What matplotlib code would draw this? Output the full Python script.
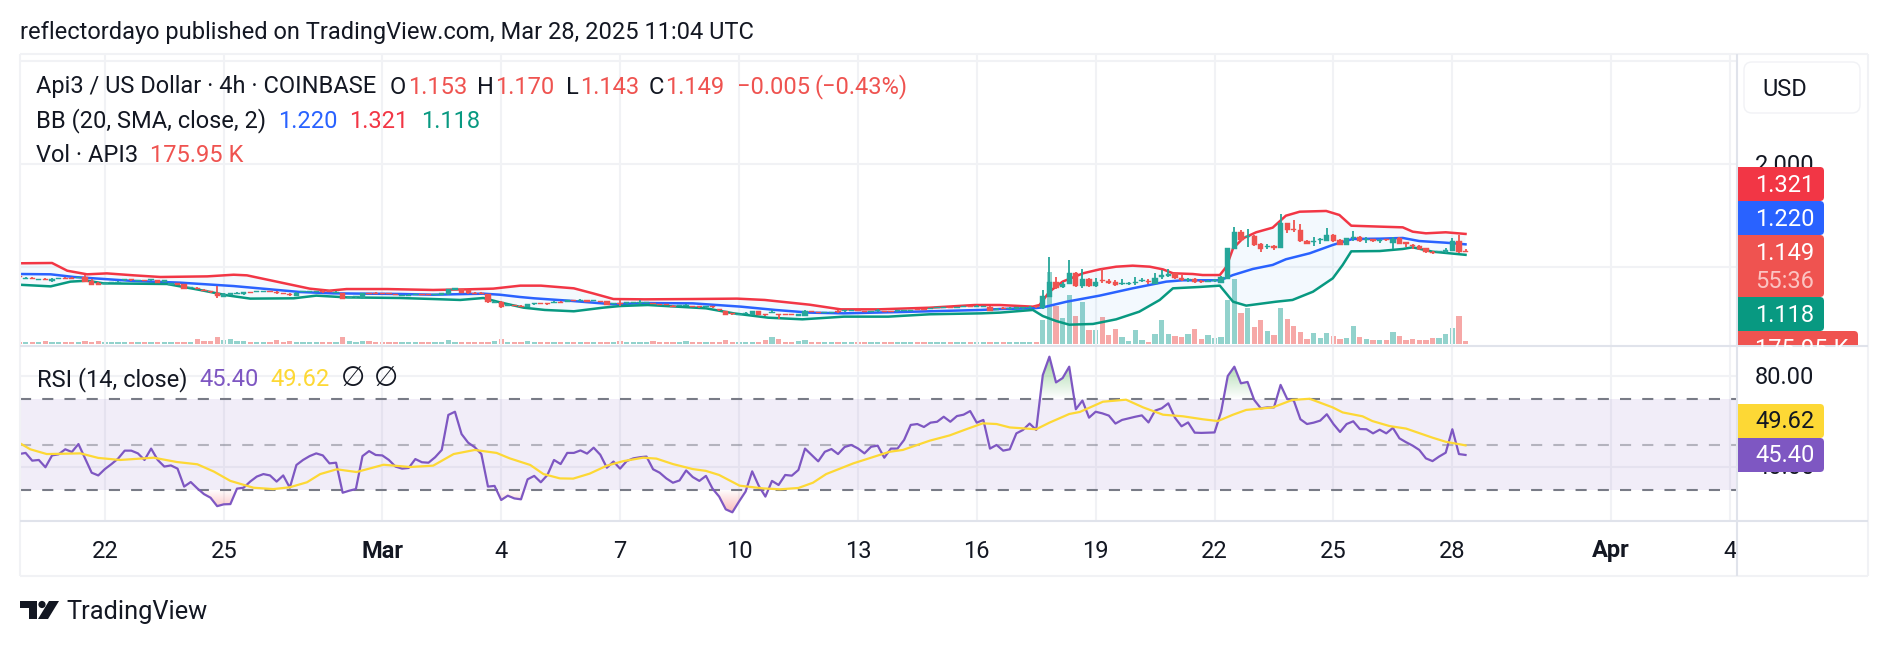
import numpy as np
import matplotlib
matplotlib.use('Agg')
from matplotlib import pyplot as plt
from matplotlib.path import Path
from matplotlib.patches import FancyBboxPatch, Rectangle, Polygon, Circle

W, H = 1888, 646
plt.rcParams['font.family'] = ['Roboto', 'DejaVu Sans']
plt.rcParams['lines.scale_dashes'] = False

# 4h candles, Feb 19 to Mar 28
opens = [.911, .888, .898, .875, .888, .861, .882, .898, .898, .895, .906, .867, .848, .836, .846, .849, .869, .879, .865, .872,
         .869, .874, .859, .830, .840, .835, .794, .795, .778, .765, .751, .712, .733, .739, .735, .756, .755, .759, .765, .756,
         .749, .740, .722, .755, .759, .759, .769, .772, .752, .744, .700, .704, .696, .749, .752, .749, .746, .736, .717, .723,
         .730, .740, .736, .726, .733, .735, .780, .783, .777, .752, .752, .738, .655, .664, .626, .630, .626, .609, .636, .649,
         .646, .655, .665, .665, .678, .668, .675, .671, .672, .667, .642, .646, .646, .649, .646, .649, .649, .643, .639, .626,
         .620, .620, .623, .617, .607, .617, .588, .570, .549, .536, .548, .537, .570, .542, .552, .542, .542, .542, .529, .528,
         .575, .565, .552, .555, .575, .568, .571, .581, .575, .565, .568, .571, .575, .568, .574, .574, .591, .594, .594, .600,
         .600, .610, .604, .610, .623, .616, .610, .615, .587, .604, .594, .597, .600, .603, .620, .599, .705, .854, .809, .832,
         .939, .819, .880, .819, .874, .864, .854, .832, .835, .845, .861, .867, .838, .906, .913, .939, .897, .874, .884, .867,
         .858, .861, .845, .884, 1.175, 1.337, 1.291, 1.301, 1.223, 1.191, 1.204, 1.188, 1.424, 1.369, 1.356, 1.256, 1.240, 1.259, 1.256, 1.311,
         1.262, 1.217, 1.278, 1.291, 1.259, 1.269, 1.256, 1.272, 1.233, 1.285, 1.240, 1.217, 1.204, 1.181, 1.149, 1.146, 1.149, 1.155, 1.252, 1.153]
closes = [.901, .898, .888, .885, .878, .887, .892, .888, .888, .905, .858, .828, .828, .846, .856, .859, .879, .869, .875, .862,
          .879, .848, .869, .840, .830, .790, .804, .785, .768, .755, .722, .738, .743, .749, .760, .746, .765, .769, .755, .746,
          .739, .730, .751, .765, .769, .769, .759, .762, .762, .692, .710, .714, .744, .739, .742, .739, .736, .726, .727, .733,
          .740, .730, .726, .736, .743, .783, .793, .751, .744, .742, .742, .657, .665, .609, .636, .620, .616, .641, .646, .639,
          .636, .665, .655, .675, .668, .678, .665, .681, .662, .631, .652, .636, .656, .659, .656, .659, .639, .633, .629, .616,
          .630, .630, .613, .607, .617, .607, .578, .534, .539, .546, .558, .570, .534, .532, .562, .532, .532, .532, .539, .576,
          .565, .555, .562, .565, .565, .578, .581, .571, .565, .575, .578, .561, .565, .578, .584, .584, .581, .584, .604, .610,
          .610, .600, .614, .620, .613, .626, .620, .576, .597, .594, .604, .607, .610, .613, .610, .718, .851, .793, .835, .939,
          .819, .880, .819, .858, .864, .848, .822, .841, .845, .854, .874, .854, .893, .919, .932, .890, .871, .887, .854, .854,
          .867, .871, .906, 1.181, 1.340, 1.262, 1.304, 1.210, 1.178, 1.204, 1.181, 1.424, 1.359, 1.359, 1.252, 1.227, 1.249, 1.269, 1.307, 1.252,
          1.217, 1.278, 1.291, 1.252, 1.272, 1.256, 1.265, 1.259, 1.275, 1.227, 1.227, 1.207, 1.178, 1.142, 1.139, 1.155, 1.165, 1.249, 1.149, 1.149]
highs = [.915, .900, .905, .887, .890, .890, .894, .900, .900, .907, .919, .880, .851, .848, .858, .861, .881, .881, .877, .874,
         .881, .876, .871, .842, .842, .838, .806, .805, .786, .767, .815, .745, .748, .755, .762, .758, .767, .771, .767, .770,
         .751, .750, .753, .767, .771, .771, .775, .774, .764, .747, .712, .716, .746, .751, .754, .751, .748, .738, .729, .735,
         .742, .742, .738, .738, .745, .785, .795, .785, .779, .754, .754, .740, .667, .666, .638, .632, .632, .643, .648, .651,
         .648, .667, .667, .677, .680, .690, .677, .683, .674, .669, .654, .680, .658, .661, .680, .661, .651, .645, .641, .628,
         .632, .645, .625, .619, .619, .619, .590, .572, .551, .548, .560, .572, .572, .544, .583, .545, .544, .544, .541, .578,
         .577, .567, .564, .567, .585, .580, .583, .583, .577, .577, .590, .573, .577, .580, .586, .586, .593, .596, .606, .612,
         .612, .612, .616, .622, .625, .628, .622, .617, .599, .610, .610, .612, .615, .618, .625, .777, 1.094, .906, .851, 1.068,
         .951, .977, .890, .890, .977, .880, .874, .880, .854, .906, .897, .884, .939, .971, .977, .945, .919, .893, .893, .871,
         .871, .887, .913, 1.187, 1.385, 1.356, 1.366, 1.311, 1.230, 1.223, 1.214, 1.515, 1.430, 1.456, 1.414, 1.262, 1.291, 1.285, 1.375, 1.317,
         1.269, 1.281, 1.353, 1.298, 1.288, 1.272, 1.275, 1.275, 1.288, 1.294, 1.243, 1.220, 1.210, 1.185, 1.152, 1.159, 1.184, 1.282, 1.314, 1.170]
lows = [.899, .886, .880, .873, .876, .858, .880, .886, .886, .893, .855, .825, .825, .834, .844, .847, .867, .867, .863, .860,
        .867, .846, .857, .828, .828, .787, .792, .783, .766, .750, .702, .710, .728, .735, .733, .744, .753, .757, .753, .740,
        .737, .722, .720, .753, .757, .757, .750, .760, .750, .690, .698, .702, .694, .737, .740, .737, .734, .724, .715, .721,
        .728, .728, .724, .724, .731, .733, .778, .749, .742, .740, .740, .655, .653, .600, .624, .618, .610, .607, .634, .637,
        .634, .653, .653, .663, .666, .666, .663, .669, .660, .628, .640, .618, .644, .647, .644, .647, .637, .631, .627, .614,
        .618, .618, .611, .605, .605, .605, .576, .532, .530, .534, .546, .535, .532, .525, .550, .492, .530, .530, .527, .526,
        .563, .553, .550, .553, .550, .566, .569, .569, .563, .563, .566, .559, .563, .566, .572, .572, .579, .582, .592, .598,
        .598, .598, .602, .608, .611, .614, .608, .574, .585, .590, .590, .592, .595, .598, .605, .592, .705, .790, .793, .832,
        .809, .793, .809, .809, .841, .832, .816, .828, .828, .828, .851, .835, .838, .887, .900, .884, .864, .851, .848, .848,
        .851, .854, .841, .884, 1.175, 1.256, 1.197, 1.207, 1.149, 1.175, 1.168, 1.188, 1.333, 1.343, 1.243, 1.224, 1.207, 1.223, 1.252, 1.243,
        1.217, 1.217, 1.252, 1.246, 1.236, 1.240, 1.236, 1.256, 1.172, 1.223, 1.197, 1.178, 1.168, 1.139, 1.129, 1.143, 1.133, 1.155, 1.139, 1.143]

# volume per bar, thousands of API3
volume = [117, 117, 117, 117, 176, 117, 117, 117, 117, 117, 176, 117, 176, 117, 117, 117, 117, 117, 117, 117,
          117, 117, 117, 117, 117, 117, 117, 293, 176, 176, 411, 235, 293, 176, 176, 117, 117, 117, 117, 235,
          117, 176, 117, 117, 117, 117, 117, 117, 117, 411, 176, 117, 176, 176, 117, 117, 117, 117, 117, 117,
          117, 117, 117, 117, 117, 235, 117, 117, 117, 117, 117, 117, 176, 293, 117, 117, 117, 176, 117, 117,
          117, 117, 117, 117, 117, 117, 117, 117, 117, 117, 117, 176, 117, 117, 117, 117, 176, 117, 117, 117,
          117, 176, 117, 117, 117, 117, 117, 235, 117, 117, 117, 117, 117, 235, 411, 293, 117, 117, 176, 235,
          117, 117, 117, 117, 117, 117, 117, 117, 117, 117, 117, 117, 117, 117, 117, 117, 117, 117, 117, 117,
          117, 117, 117, 117, 117, 117, 117, 117, 117, 117, 117, 117, 117, 117, 117, 1408, 4223, 2229, 1525, 2874,
          1642, 2463, 821, 821, 1584, 528, 880, 411, 176, 821, 235, 117, 587, 1408, 587, 469, 411, 587, 880, 293,
          528, 352, 411, 2581, 3812, 1818, 2111, 997, 1408, 762, 528, 2111, 1466, 1056, 704, 293, 645, 352, 645, 469,
          293, 352, 1056, 411, 293, 235, 235, 235, 704, 469, 235, 293, 235, 235, 352, 352, 587, 938, 1642, 175.95]

# Bollinger band vertices: bar number, price
upper_bars = [0, 5, 7.3, 10.3, 13.3, 17.4, 21.4, 28.5, 32.5, 34.5, 39, 44, 47, 49.6, 55.7, 62.7, 67.8, 71.8, 75.9, 79, 84, 86.9, 90, 94.7,
              102, 108.7, 112.9, 119.7, 124.4, 130.1, 137.9, 144.7, 148.5, 153.5, 154.5, 156, 158, 161.1, 163.6, 166.1, 168.6, 171.2,
              173.2, 174.7, 177.7, 179.2, 181.8, 182.8, 183.8, 185.3, 187.3, 189.8, 191.8, 193.9, 197.9, 199.9, 201.7, 206, 209.5, 211, 213, 216, 219]
upper = [1.036, 1.039, .964, .929, .938, .919, .903, .909, .925, .919, .858, .790, .770, .786, .786, .777, .783, .790, .819, .819, .793, .744, .689, .686,
         .689, .693, .680, .634, .589, .589, .605, .631, .631, .615, .631, .760, .858, .939, .977, 1.003, 1.013, 1.003,
         .977, .939, .932, .922, .922, 1.003, 1.181, 1.278, 1.337, 1.382, 1.498, 1.537, 1.544, 1.505, 1.401, 1.392, 1.385, 1.343, 1.327, 1.337, 1.321]
basis_bars = [0, 4.8, 8.3, 17.4, 24.4, 32.5, 42.6, 47.6, 57.7, 62.7, 70.3, 72.8, 75.8, 78, 83.2, 90, 94.7, 102, 109.3, 114.5, 119.7, 124.9, 135.3,
              145.7, 148.5, 153.5, 155, 158.6, 163.6, 168.6, 173.7, 176.2, 181.8, 183.8, 186.8, 189.8, 191.8, 195.4, 198.9, 201.9, 206, 209.5, 212, 216, 219]
basis = [.932, .929, .903, .864, .848, .815, .757, .744, .738, .731, .741, .731, .709, .696, .673, .638, .650, .647, .615, .583, .557, .550, .566,
         .583, .592, .599, .608, .663, .722, .793, .858, .871, .871, .922, .981, 1.020, 1.075, 1.133, 1.214, 1.272, 1.275, 1.282, 1.252, 1.236, 1.220]
lower_bars = [0, 4.8, 7.8, 10.3, 12.8, 22.4, 27.4, 31.5, 35, 41.6, 45, 49.6, 57.7, 62.7, 66.8, 70.3, 72.8, 76.4, 79.6, 84, 88.4, 91, 95.2, 104, 108.2,
              113.4, 118.6, 124.9, 131.6, 137.9, 145.7, 148.5, 153.5, 155, 157, 159, 162.6, 166.1, 169.6, 172.7, 174.7, 178.7, 181.8, 183.8, 185.8,
              190.3, 192.8, 195.9, 198.9, 200.4, 201.7, 206, 209.5, 211, 214, 219]
lower = [.828, .812, .858, .867, .841, .835, .777, .725, .693, .696, .722, .705, .699, .689, .680, .699, .657, .605, .583, .570, .605, .621, .631, .599, .550,
         .508, .492, .518, .518, .541, .550, .557, .583, .524, .476, .440, .447, .492, .566, .680, .793, .806, .819, .663, .625,
         .663, .680, .760, .890, 1.020, 1.152, 1.155, 1.175, 1.191, 1.149, 1.118]

# RSI(14) per bar
rsi = [45.8, 46.3, 42.9, 43.2, 40.0, 45.2, 45.7, 47.9, 46.7, 50.2, 43.9, 37.6, 36.4, 39.2, 41.4, 43.8, 47.3, 47.3, 46.1, 43.2,
       48.2, 43.2, 40.3, 40.8, 39.4, 31.5, 33.5, 30.7, 28.2, 26.6, 22.9, 23.7, 23.8, 30.6, 31.0, 33.7, 35.9, 37.0, 36.4, 33.7,
       36.4, 31.0, 41.0, 43.2, 44.9, 46.1, 45.2, 41.7, 42.0, 28.8, 29.7, 30.4, 44.9, 47.1, 45.4, 45.2, 43.2, 40.3, 39.4, 39.7,
       43.6, 42.2, 42.0, 44.4, 47.6, 63.0, 64.4, 54.6, 50.8, 48.8, 45.8, 31.5, 31.8, 25.6, 27.5, 26.3,
       25.9, 34.7, 36.2, 33.4, 36.6, 43.2, 41.4, 46.3, 46.3, 47.4, 46.0, 48.6, 45.5, 39.8, 42.5, 39.4, 42.7, 43.9, 44.4, 44.7,
       39.1, 37.6, 35.1, 33.2, 34.2, 38.6, 35.7, 34.0, 36.2, 30.6, 27.1, 21.5, 20.2, 24.9, 29.3, 38.2, 31.8, 27.1, 34.0, 32.2,
       36.6, 36.3, 38.8, 48.2, 45.4, 42.6, 46.8, 48.0, 45.8, 48.9, 49.8, 48.3, 46.1, 49.0, 49.5, 44.2, 48.2, 48.2, 52.0, 58.6,
       59.0, 57.7, 59.6, 60.0, 62.2, 60.0, 62.5, 63.1, 64.7, 59.6, 60.8, 48.2, 49.8, 47.3,
       47.9, 54.9, 56.4, 59.2, 56.4, 80.5, 88.6, 77.3, 79.2, 84.2, 65.5, 69.3, 61.8, 64.4, 63.7, 62.7, 59.2, 60.8, 61.5, 62.2,
       62.8, 59.7, 64.9, 65.9, 68.1, 61.8, 58.0, 59.7, 55.2, 55.1, 55.2, 55.3, 64.4, 80.1, 84.2, 76.9, 77.5, 69.6, 65.9, 66.3,
       66.3, 76.2, 70.0, 69.3, 61.1, 59.0, 59.6, 60.5, 63.3, 59.0, 55.5, 59.0, 60.2, 56.8, 56.7, 54.9, 56.5, 54.9, 57.3, 52.7,
       51.0, 49.5, 47.6, 43.9, 42.7, 44.7, 46.4, 56.7, 45.8, 45.40]

# RSI moving average vertices: bar number, value
rsi_ma_bars = [0, 1.7, 4.2, 9.3, 12, 15.3, 20.4, 23.9, 27, 29.5, 32, 35.5, 38.5, 41, 43.6, 45.6, 48.1, 51.1, 55.2, 59.2, 62.7, 65.8, 69, 72.3,
               74.3, 77.4, 79.4, 81.9, 83.9, 86.4, 89, 91.5, 94.5, 96.5, 99, 102, 104, 106, 109.1, 112.7, 115.2, 118, 120.2, 122.2, 126.3, 131.8,
               133.8, 137.9, 140.9, 143.4, 145.9, 148, 150, 154, 156, 159, 160.6, 164.1, 167.6, 170.2, 173.2, 176.2, 179.2, 181.5, 183.8, 185.8,
               189.8, 192.8, 195.4, 198.9, 200.4, 203.4, 204.9, 207.5, 210, 214, 216, 219]
rsi_ma = [50.8, 47.9, 45.8, 46.1, 44.1, 43.2, 44.2, 42.3, 41.3, 38.1, 34.0, 31.0, 30.4, 31.2, 33.4, 37.0, 39.1, 37.9, 41.1, 40.1, 40.7, 45.8, 47.6, 46.3,
          43.9, 41.0, 37.0, 35.1, 35.0, 37.2, 40.7, 42.7, 44.2, 43.8, 41.4, 39.2, 38.4, 36.6, 31.9, 30.7, 30.3, 30.9, 33.2, 37.0, 41.7, 46.8,
          47.6, 51.7, 54.0, 56.7, 59.3, 59.0, 57.5, 56.7, 59.6, 63.4, 64.3, 68.8, 69.7, 66.3, 63.1, 62.4, 61.1, 60.3, 63.1, 65.2,
          66.3, 69.6, 70.1, 66.3, 64.1, 62.4, 60.3, 58.1, 57.0, 53.0, 51.2, 49.62]

# time axis: bar number of each midnight and its label
tick_bars = [13, 31, 55, 73, 91, 109, 127, 145, 163, 181, 199, 217, 241, 259]
tick_labels = ['22', '25', 'Mar', '4', '7', '10', '13', '16', '19', '22', '25', '28', 'Apr', '4']
bold_ticks = ['Mar', 'Apr']

price_grid = [1, 2, 3]
rsi_grid = [40, 80]

TEXT = '#131722'
GRID = '#F1F2F5'
SEP = '#E0E3EB'
UP = '#26A69A'
DOWN = '#EF5350'
BB_RED = '#F23645'
BB_BLUE = '#2962FF'
BB_GREEN = '#089981'
PURPLE = '#7E57C2'
YELLOW = '#FDD835'
FS = 17

fig = plt.figure(figsize=(W / 100, H / 100), dpi=100, facecolor='white')


def pane(x0, y0, x1, y1, **kw):
    return fig.add_axes([x0 / W, 1 - y1 / H, (x1 - x0) / W, (y1 - y0) / H], **kw)


XLIM = (0.15, 260.1)
bars = np.arange(len(opens))

# price pane, 103 px per 1.0 with 1.0 at y=267
ax = pane(20, 54, 1737, 345.5)
ax.set_xlim(*XLIM)
ax.set_ylim(1 - (345.5 - 267) / 103, 1 + (267 - 54) / 103)
ax.axis('off')
ax.vlines(tick_bars, 0, 4, color=GRID, lw=1.5, zorder=0)
ax.hlines(price_grid, *XLIM, color=GRID, lw=1.5, zorder=0)

# volume shares the pane, bars sit on y=344
ax_vol = ax.twinx()
ax_vol.set_ylim(-100, 17000)
ax_vol.axis('off')
ax_vol.set_zorder(ax.get_zorder() - 1)
ax.set_zorder(ax_vol.get_zorder() + 1)
ax.patch.set_visible(False)
colors = [UP if c >= o else DOWN for o, c in zip(opens, closes)]
ax_vol.bar(bars, volume, width=0.8, color=colors, alpha=0.5, linewidth=0, zorder=2)

# Bollinger fill and lines
ax.fill(np.r_[upper_bars, lower_bars[::-1]], np.r_[upper, lower[::-1]], color='#2196F3', alpha=0.05, lw=0, zorder=1)
ax.plot(upper_bars, upper, color=BB_RED, lw=1.8, zorder=2, solid_joinstyle='round')
ax.plot(basis_bars, basis, color=BB_BLUE, lw=1.8, zorder=2, solid_joinstyle='round')
ax.plot(lower_bars, lower, color=BB_GREEN, lw=1.8, zorder=2, solid_joinstyle='round')

# candles
ax.vlines(bars, lows, highs, color=colors, lw=1.3, zorder=3)
bottoms = np.minimum(opens, closes)
heights = np.abs(np.array(closes) - np.array(opens))
ax.bar(bars, heights, bottom=bottoms, width=0.8, color=colors, edgecolor=colors, linewidth=0.3, zorder=4)

# RSI pane, 2.275 px per point with 70 at y=399
RSI_YLIM = (70 - (521 - 399) / 2.275, 70 + (399 - 346) / 2.275)
ax_r = pane(20, 346, 1737, 521)
ax_r.set_xlim(*XLIM)
ax_r.set_ylim(*RSI_YLIM)
ax_r.axis('off')
ax_r.vlines(tick_bars, 0, 100, color=GRID, lw=1.5, zorder=0)
ax_r.hlines(rsi_grid, *XLIM, color=GRID, lw=1.5, zorder=0)
ax_r.add_patch(Rectangle((XLIM[0], 30), XLIM[1] - XLIM[0], 40, color=PURPLE, alpha=0.1, lw=0, zorder=1))
ax_r.axhline(70, color='#787B86', lw=1.5, dashes=(8, 8), zorder=2)
ax_r.axhline(30, color='#787B86', lw=1.5, dashes=(8, 8), zorder=2)
ax_r.axhline(50, color='#787B86', lw=1.5, dashes=(8, 8), alpha=0.5, zorder=2)

rsi_bars = np.arange(len(rsi)) + len(opens) - len(rsi)


def gradient_zone(where, top_rgb, v_strong, v_clear, peak_alpha):
    # vertical fade clipped to the area between the line and the level
    poly = ax_r.fill_between(rsi_bars, rsi, v_clear, where=where, interpolate=True, color='none', lw=0)
    img = np.zeros((64, 2, 4))
    img[..., :3] = top_rgb
    img[..., 3] = np.linspace(peak_alpha, 0, 64)[:, None]
    lo, hi = min(v_strong, v_clear), max(v_strong, v_clear)
    if v_strong < v_clear:
        img = img[::-1]
    im = ax_r.imshow(img, extent=(XLIM[0], XLIM[1], lo, hi), origin='upper', aspect='auto', zorder=2, interpolation='bilinear')
    paths = poly.get_paths()
    verts = np.concatenate([p.vertices for p in paths])
    codes = np.concatenate([p.codes for p in paths])
    im.set_clip_path(Path(verts, codes), transform=ax_r.transData)


arr = np.array(rsi)
gradient_zone(arr >= 70, (0.3, 0.69, 0.31), 88.6, 70, 0.55)
gradient_zone(arr <= 30, (0.95, 0.25, 0.25), 20.2, 30, 0.35)
ax_r.set_xlim(*XLIM)
ax_r.set_ylim(*RSI_YLIM)

ax_r.plot(rsi_bars, rsi, color=PURPLE, lw=1.6, zorder=4, solid_joinstyle='round')
ax_r.plot(rsi_ma_bars, rsi_ma, color=YELLOW, lw=1.6, zorder=5, solid_joinstyle='round')

# time axis strip
ax_t = pane(20, 521, 1737, 575.5)
ax_t.set_xlim(*XLIM)
ax_t.set_ylim(575.5, 521)
ax_t.axis('off')
for pos, lab in zip(tick_bars, tick_labels):
    ax_t.text(pos, 551, lab, ha='center', va='center', fontsize=FS, color=TEXT, clip_on=True,
              fontweight='bold' if lab in bold_ticks else 'normal')

# everything in pixel coordinates from here on
root = fig.add_axes([0, 0, 1, 1], facecolor='none')
root.set_xlim(0, W)
root.set_ylim(H, 0)
root.axis('off')


def label(x, y, s, color=TEXT, **kw):
    kw.setdefault('fontsize', FS)
    kw.setdefault('va', 'center')
    return root.text(x, y + 2, s, color=color, **kw)


# chart frame and separators
for xs, ys, col, lw in [((20, 20), (54, 575.5), GRID, 1.5), ((20, 1868), (54, 54), GRID, 1.5),
                        ((1868, 1868), (54, 575.5), GRID, 1.5), ((20, 1868), (575.5, 575.5), GRID, 1.5),
                        ((20, 1868), (345.7, 345.7), SEP, 1.5), ((20, 1868), (521, 521), SEP, 1.5),
                        ((1737, 1737), (54, 575.5), SEP, 1.5)]:
    root.plot(xs, ys, color=col, lw=lw, solid_capstyle='butt')

# legend rows
label(20, 30, 'reflectordayo published on TradingView.com, Mar 28, 2025 11:04 UTC')
label(36, 85, 'Api3 / US Dollar · 4h · COINBASE')
for x, s, col in [(390, 'O', TEXT), (408, '1.153', DOWN), (477, 'H', TEXT), (495, '1.170', DOWN), (566, 'L', TEXT),
                  (580, '1.143', DOWN), (649, 'C', TEXT), (665, '1.149', DOWN), (737, '−0.005', DOWN), (815, '(−0.43%)', DOWN)]:
    label(x, 85, s, col)
label(36, 119, 'BB (20, SMA, close, 2)')
label(278, 119, '1.220', BB_BLUE)
label(349, 119, '1.321', BB_RED)
label(421, 119, '1.118', BB_GREEN)
label(36, 153, 'Vol · API3')
label(150, 153, '175.95 K', DOWN)
label(37, 378, 'RSI (14, close)')
label(199, 378, '45.40', PURPLE)
label(270, 378, '49.62', YELLOW)
label(341, 376, '∅', fontsize=20)
label(374, 376, '∅', fontsize=20)

# price scale
root.add_patch(FancyBboxPatch((1744, 62), 116, 51, boxstyle='round,pad=0,rounding_size=8', fc='white', ec=GRID, lw=1))
label(1762, 87, 'USD')
label(1755, 163, '2.000')
label(1755, 375, '80.00')
label(1755, 466, '40.00')

clip_upper = Rectangle((1738, 54), 130, 291, transform=root.transData)
clip_lower = Rectangle((1738, 346), 130, 175, transform=root.transData)


def tag(y0, y1, color, x1=1824, clip=clip_upper):
    patch = FancyBboxPatch((1730, y0), x1 - 1730, y1 - y0, boxstyle='round,pad=0,rounding_size=4', fc=color, ec='none', zorder=5)
    root.add_patch(patch)
    patch.set_clip_path(clip)


tag(167, 201, BB_RED)
tag(201, 235, BB_BLUE)
tag(235, 297, DOWN)
tag(297, 331, BB_GREEN)
tag(331, 360, DOWN, x1=1858)
tag(404, 438, YELLOW, clip=clip_lower)
tag(438, 472, PURPLE, clip=clip_lower)
label(1755, 183, '1.321', 'white', zorder=6)
label(1755, 217, '1.220', 'white', zorder=6)
label(1755, 251, '1.149', 'white', zorder=6)
label(1755, 279, '55:36', '#FBC4C2', zorder=6)
label(1755, 313, '1.118', 'white', zorder=6)
t = label(1755, 347, '175.95 K', 'white', zorder=6)
t.set_clip_path(clip_upper)
label(1755, 420, '49.62', TEXT, zorder=6)
label(1755, 454, '45.40', 'white', zorder=6)

# logo
root.add_patch(Polygon([(20, 601), (37, 601), (37, 619), (29, 619), (29, 608), (20, 608)], fc=TEXT, ec='none'))
root.add_patch(Circle((42, 604.5), 3.6, fc=TEXT, ec='none'))
root.add_patch(Polygon([(49, 601), (59, 601), (48, 619), (38, 619)], fc=TEXT, ec='none'))
label(66, 610, 'TradingView', fontsize=18.3)

fig.savefig('out.png', dpi=100)
